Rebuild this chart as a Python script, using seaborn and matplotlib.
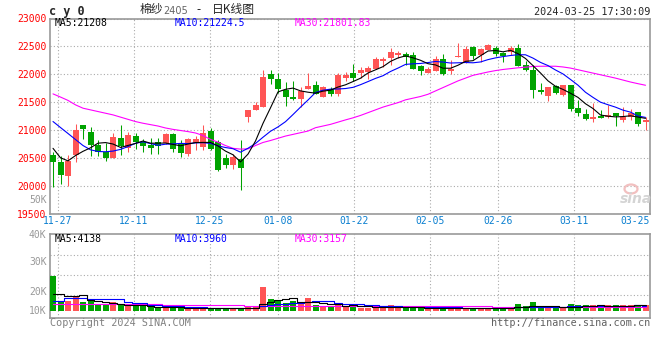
import matplotlib
matplotlib.use("Agg")
import matplotlib.pyplot as plt
from matplotlib.patches import Ellipse
import numpy as np
import pandas as pd
import seaborn as sns

# ---------------- data ----------------
holidays = ["2024-01-01", "2024-02-09", "2024-02-12", "2024-02-13",
            "2024-02-14", "2024-02-15", "2024-02-16"]
trade_days = [d for d in pd.bdate_range("2023-11-24", "2024-03-25")
              if d.strftime("%Y-%m-%d") not in holidays]
day_labels = [d.strftime("%m-%d") for d in trade_days]
tick_dates = ["11-27", "12-11", "12-25", "01-08", "01-22", "02-05", "02-26", "03-11", "03-25"]
price_ticks = [19500, 20000, 20500, 21000, 21500, 22000, 22500, 23000]

open_ = [20554, 20416, 20165, 20554, 21092, 20966, 20733, 20608, 20500, 20859,
         20679, 20894, 20787, 20733, 20787, 20769, 20930, 20751, 20572, 20769,
         20697, 20984, 20792, 20500, 20375, 20477, 21240, 21360, 21419, 22005,
         21910, 21719, 21599, 21552, 21737, 21808, 21599, 21731, 21647, 21939,
         22018, 22018, 22047, 22095, 22238, 22298, 22346, 22364, 22352, 22154,
         22029, 22065, 22274, 22065, 22315, 22220, 22489, 22341, 22441, 22471,
         22382, 22400, 22471, 22161, 22083, 21724, 21606, 21796, 21635, 21803,
         21396, 21289, 21199, 21247, 21235, 21301, 21187, 21229, 21324, 21140]
high = [20600, 20536, 20554, 21104, 21092, 21061, 20823, 20764, 20943, 21086,
        20966, 20948, 20841, 20859, 20859, 20948, 20948, 20823, 20859, 20894,
        21092, 21038, 20823, 20566, 20572, 20823, 21360, 21509, 22077, 22077,
        22018, 21867, 21885, 21778, 22029, 21885, 21795, 21778, 22018, 22047,
        22185, 22126, 22149, 22305, 22305, 22466, 22418, 22405, 22400, 22160,
        22130, 22323, 22364, 22262, 22561, 22502, 22500, 22465, 22543, 22502,
        22390, 22502, 22543, 22233, 22172, 21844, 21775, 21815, 21810, 21815,
        21534, 21378, 21486, 21366, 21455, 21305, 21414, 21378, 21330, 21240]
low = [19975, 20034, 19998, 20416, 20841, 20536, 20536, 20434, 20500, 20554,
       20608, 20661, 20608, 20572, 20572, 20750, 20608, 20518, 20536, 20644,
       20644, 20640, 20265, 20308, 20298, 19927, 21140, 21360, 21410, 21826,
       21660, 21432, 21540, 21409, 21737, 21640, 21590, 21611, 21611, 21885,
       21885, 21939, 21910, 22090, 22136, 22167, 22287, 22167, 22095, 21982,
       22015, 22054, 21982, 22005, 22315, 22210, 22274, 22220, 22430, 22323,
       22220, 22352, 22140, 22054, 21575, 21647, 21516, 21650, 21610, 21348,
       21247, 21181, 21145, 21215, 21217, 21068, 21145, 21187, 21074, 21007]
close = [20416, 20196, 20446, 21002, 21020, 20733, 20608, 20500, 20876, 20715,
         20912, 20787, 20715, 20679, 20715, 20930, 20661, 20590, 20841, 20841,
         20948, 20661, 20273, 20375, 20513, 20308, 21360, 21450, 21957, 21910,
         21731, 21599, 21557, 21706, 21790, 21647, 21778, 21647, 21988, 21988,
         21939, 22077, 22118, 22274, 22274, 22405, 22387, 22305, 22100, 22054,
         22100, 22274, 22011, 22095, 22323, 22453, 22333, 22453, 22520, 22369,
         22333, 22471, 22154, 22083, 21724, 21677, 21767, 21665, 21803, 21378,
         21307, 21199, 21235, 21222, 21265, 21247, 21229, 21307, 21109, 21187]

ma5 = [20670, 20500, 20445, 20540, 20616, 20679, 20762, 20773, 20747, 20686,
       20722, 20758, 20801, 20762, 20762, 20765, 20740, 20715, 20747, 20773,
       20776, 20776, 20713, 20620, 20554, 20426, 20566, 20801, 21118, 21397,
       21682, 21729, 21751, 21701, 21677, 21660, 21696, 21714, 21770, 21810,
       21868, 21928, 22022, 22079, 22136, 22230, 22292, 22329, 22294, 22250,
       22189, 22167, 22108, 22107, 22161, 22231, 22243, 22331, 22416, 22426,
       22402, 22429, 22369, 22282, 22153, 22022, 21881, 21783, 21727, 21658,
       21584, 21470, 21384, 21268, 21246, 21234, 21240, 21254, 21231, 21208]
ma10 = [21151, 21043, 20936, 20828, 20720, 20643, 20613, 20608, 20620, 20651,
        20701, 20760, 20787, 20755, 20724, 20744, 20749, 20758, 20755, 20767,
        20771, 20758, 20714, 20684, 20663, 20601, 20671, 20757, 20869, 20976,
        21054, 21148, 21276, 21409, 21537, 21671, 21713, 21732, 21735, 21743,
        21764, 21812, 21868, 21925, 21973, 22049, 22110, 22176, 22187, 22193,
        22209, 22229, 22218, 22201, 22205, 22210, 22205, 22220, 22262, 22293,
        22316, 22336, 22350, 22349, 22289, 22212, 22155, 22076, 22005, 21906,
        21803, 21676, 21584, 21498, 21452, 21409, 21355, 21319, 21250, 21225]
ma30 = [21647, 21590, 21530, 21450, 21390, 21360, 21330, 21300, 21270, 21230,
        21190, 21150, 21120, 21095, 21070, 21035, 21010, 20990, 20970, 20945,
        20900, 20830, 20780, 20720, 20670, 20656, 20660, 20720, 20775, 20810,
        20850, 20890, 20920, 20950, 20980, 21040, 21070, 21100, 21140, 21180,
        21217, 21260, 21310, 21360, 21410, 21450, 21490, 21540, 21570, 21600,
        21640, 21700, 21760, 21820, 21880, 21930, 21980, 22010, 22040, 22065,
        22085, 22100, 22115, 22126, 22140, 22143, 22143, 22143, 22130, 22110,
        22080, 22050, 22020, 21990, 21960, 21930, 21895, 21860, 21830, 21802]

volume = [25150, 7540, 7540, 11165, 6300, 7540, 4130, 4130, 6300, 4130,
          4130, 3400, 3400, 2900, 2400, 2400, 2900, 2400, 1700, 1700,
          2900, 1700, 1950, 1950, 1950, 1950, 2900, 2900, 17400, 8700,
          7000, 5800, 7250, 4850, 9200, 4130, 3400, 3600, 5350, 3400,
          4850, 2400, 2400, 2400, 2400, 4130, 2400, 2400, 2400, 2400,
          2400, 2400, 2400, 2400, 2400, 2400, 2400, 2400, 2400, 2400,
          1700, 2400, 4850, 3400, 6500, 2400, 2400, 2400, 2400, 4850,
          4130, 4130, 4130, 3400, 4130, 4130, 4130, 4130, 4130, 4130]
vma5 = [12300, 12300, 10900, 10900, 11539, 8017, 7335, 6653, 5680, 5246,
        4564, 4418, 4272, 3592, 3246, 2900, 2800, 2600, 2360, 2220,
        2320, 2080, 1990, 2040, 2090, 1900, 2140, 2330, 5420, 6770,
        7780, 8360, 9230, 6720, 6820, 6246, 5766, 5036, 5136, 3976,
        4120, 3920, 3680, 3090, 2890, 2746, 2746, 2746, 2746, 2746,
        2400, 2400, 2400, 2400, 2400, 2400, 2400, 2400, 2400, 2400,
        2260, 2260, 2750, 2950, 3770, 3910, 3910, 3420, 3220, 2890,
        3236, 3582, 3928, 4128, 3984, 3984, 3984, 3984, 4130, 4138]
vma10 = [7500, 7500, 9200, 9200, 9200, 8500, 8500, 8500, 8400, 8393,
         6291, 5877, 5463, 4636, 4246, 3732, 3609, 3436, 2976, 2733,
         2610, 2440, 2295, 2200, 2155, 2110, 2110, 2160, 3730, 4430,
         4840, 5250, 5780, 6070, 6795, 7013, 7063, 7133, 5928, 5398,
         5183, 4843, 4358, 4113, 3433, 3433, 3333, 3213, 2918, 2818,
         2573, 2573, 2573, 2573, 2573, 2400, 2400, 2400, 2400, 2400,
         2330, 2330, 2575, 2675, 3085, 3085, 3085, 3085, 3085, 3330,
         3573, 3746, 3674, 3674, 3437, 3610, 3783, 3956, 4129, 3960]
vma30 = [5100, 5100, 5100, 5100, 5100, 5100, 5100, 5100, 5100, 5100,
         5100, 5100, 5100, 5100, 5100, 4350, 4350, 4350, 4350, 4350,
         4350, 4350, 4350, 4350, 4350, 4350, 3600, 3600, 3600, 3600,
         3600, 3600, 3600, 3600, 3600, 3600, 3600, 3600, 3600, 3600,
         3600, 3300, 3300, 3300, 3300, 3300, 3300, 3300, 3300, 3300,
         3300, 3300, 3300, 3300, 3300, 3300, 3300, 3300, 3300, 3150,
         3150, 3150, 3150, 3150, 3150, 3150, 3150, 3150, 3150, 3150,
         3150, 3150, 3150, 3150, 3150, 3150, 3150, 3150, 3150, 3157]

header_price = [("MA5:21208", "#000000"), ("MA10:21224.5", "#0000ff"), ("MA30:21801.83", "#ff00ff")]
header_vol = [("MA5:4138", "#000000"), ("MA10:3960", "#0000ff"), ("MA30:3157", "#ff00ff")]
vol_tick_labels = ["10K", "20K", "30K", "40K"]

# ---------------- style ----------------
sns.set_theme(style="white")
plt.rcParams["font.family"] = ["DejaVu Sans Mono", "Noto Sans CJK SC"]
plt.rcParams["font.size"] = 7

RED = "#ff5555"
GREEN = "#00a300"
GRID = dict(color="#aaaaaa", linestyle=(0, (1, 2)), linewidth=0.8)
W, H = 660, 360


def fx(px):
    return px / W


def fy(py):
    return 1 - py / H


fig = plt.figure(figsize=(6.6, 3.6), dpi=100, facecolor="white")
ax = fig.add_axes([fx(50), fy(213.5), 600 / W, 195 / H])
axv = fig.add_axes([fx(50), fy(318), 600 / W, 84 / H])

n = len(close)
x = np.arange(n)
o = np.array(open_, float)
c = np.array(close, float)
up = c >= o
cols = np.where(up, RED, GREEN)

# x geometry
XMIN, XMAX = -0.4, 79.6
GRID_STEP = 1.012  # date grid spacing relative to candle spacing
kpos = [day_labels.index(d) for d in tick_dates]
tick_x = [0.63 + (k - 1) * GRID_STEP for k in kpos]

# ---------------- price panel ----------------
ax.vlines(x, low, high, colors=cols, linewidth=0.75, zorder=3)
body_bottom = np.minimum(o, c)
body_h = np.maximum(np.abs(c - o), 20)
ax.bar(x, body_h, bottom=body_bottom, width=0.8, color=cols, linewidth=0, zorder=3)

sns.lineplot(x=x, y=ma30, ax=ax, color="#ff00ff", linewidth=0.8, zorder=4)
sns.lineplot(x=x, y=ma10, ax=ax, color="#0000ff", linewidth=0.8, zorder=4)
sns.lineplot(x=x, y=ma5, ax=ax, color="#000000", linewidth=0.8, zorder=5)

ax.set_xlim(XMIN, XMAX)
ax.set_ylim(19500, 23000)
ax.set_yticks(price_ticks)
ax.set_yticklabels([str(v) for v in price_ticks])
ax.set_xticks(tick_x)
ax.set_xticklabels(tick_dates)
ax.xaxis.get_ticklabels()[-1].set_horizontalalignment("right")
ax.tick_params(axis="y", length=0, pad=2.5, labelcolor="#ff0000", labelsize=7)
ax.tick_params(axis="x", length=0, pad=1.5, labelcolor="#0a7fd0", labelsize=7)
ax.grid(True, **GRID)
ax.set_xlabel("")
ax.set_ylabel("")
for s in ax.spines.values():
    s.set_color("#999999")
    s.set_linewidth(1.2)

# ---------------- volume panel ----------------
LOTS_PER_PX = 725
axv.bar(x, volume, width=0.8, color=cols, linewidth=0, zorder=3)
sns.lineplot(x=x, y=vma30, ax=axv, color="#ff00ff", linewidth=0.8, drawstyle="steps-mid", zorder=4)
sns.lineplot(x=x, y=vma10, ax=axv, color="#0000ff", linewidth=0.8, drawstyle="steps-mid", zorder=4)
sns.lineplot(x=x, y=vma5, ax=axv, color="#000000", linewidth=0.8, drawstyle="steps-mid", zorder=5)
axv.set_xlim(XMIN, XMAX)
axv.set_ylim(-7 * LOTS_PER_PX, 77 * LOTS_PER_PX)
axv.set_xticks(tick_x)
axv.set_xticklabels([])
axv.set_yticks([1 * LOTS_PER_PX, 20 * LOTS_PER_PX, 50 * LOTS_PER_PX, 77 * LOTS_PER_PX])
axv.set_yticklabels(vol_tick_labels)
axv.set_yticks([16 * LOTS_PER_PX, 36 * LOTS_PER_PX, 56 * LOTS_PER_PX], minor=True)
axv.tick_params(axis="y", which="both", length=0, pad=2.5, labelcolor="#999999", labelsize=7)
axv.tick_params(axis="x", length=0)
axv.grid(True, axis="x", **GRID)
axv.grid(True, axis="y", which="minor", **GRID)
axv.set_xlabel("")
axv.set_ylabel("")
for s in axv.spines.values():
    s.set_color("#999999")
    s.set_linewidth(1.2)

# ---------------- texts ----------------
for (txt, col), px in zip(header_price, [55, 175, 295]):
    fig.text(fx(px), fy(23.5), txt, color=col, fontsize=7, va="center", ha="left")
for (txt, col), px in zip(header_vol, [55, 175, 295]):
    fig.text(fx(px), fy(238.5), txt, color=col, fontsize=7, va="center", ha="left")

fig.text(fx(49), fy(11), "c y 0", fontsize=8.5, fontweight="bold", va="center", ha="left")
CJK = ["Noto Sans CJK SC", "DejaVu Sans"]
fig.text(fx(140), fy(10), "棉纱", fontsize=8.5, va="center", ha="left", family=CJK,
         fontweight="medium")
fig.text(fx(163), fy(10.5), "2405", fontsize=7, va="center", ha="left", color="#666666",
         family=["DejaVu Sans", "Noto Sans CJK SC"])
fig.text(fx(196), fy(10), "-", fontsize=8.5, va="center", ha="left", family=CJK)
fig.text(fx(212), fy(10), "日K线图", fontsize=8.5, va="center", ha="left", family=CJK,
         fontweight="medium")
fig.text(fx(650), fy(12), "2024-03-25 17:30:09", fontsize=7.3, va="center", ha="right")

fig.text(fx(47), fy(200), "50K", color="#999999", fontsize=7, va="center", ha="right")

fig.text(fx(636), fy(199), "sina", color="#d4d4d4", fontsize=10, fontstyle="italic",
         fontweight="bold", va="center", ha="center", family=["DejaVu Sans"])
fig.patches.append(Ellipse((fx(631), fy(189)), 13 / W, 9 / H, transform=fig.transFigure,
                           facecolor="none", edgecolor="#f2c0c0", linewidth=1.6))

fig.text(fx(50), fy(323), "Copyright 2024 SINA.COM", color="#808080", fontsize=7.3,
         va="center", ha="left")
fig.text(fx(650), fy(323), "http://finance.sina.com.cn", color="#606060", fontsize=7.3,
         va="center", ha="right")

fig.savefig("out.png", dpi=100, facecolor="white")
